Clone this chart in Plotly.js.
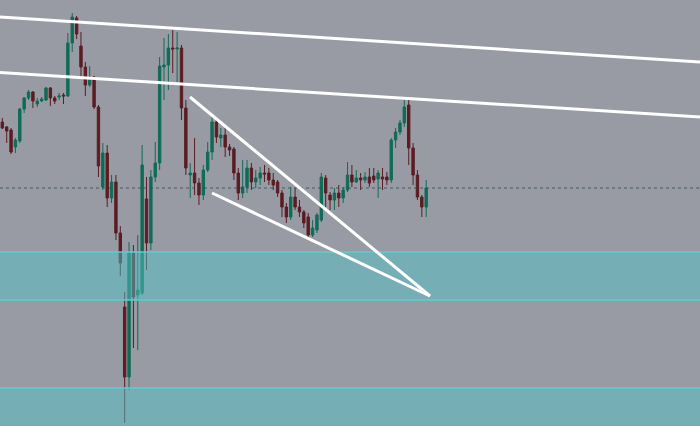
<!DOCTYPE html>
<html>
<head>
<meta charset="utf-8">
<script src="https://cdn.plot.ly/plotly-3.0.1.min.js"></script>
<style>html,body{margin:0;padding:0;background:#989ba3;}#chart{width:700px;height:426px;}</style>
</head>
<body>
<div id="chart"></div>
<script>
// OHLC values (price units), one entry per candle
const openP  = [304,299,296,279,285,317,328,334,322,325,326,338,328,329,331,330,383,408,380,359,341,349,319,239,273,228,244,193,119,49,173,131,133,227,183,249,263,359,361,378,377,378,318,251,253,243,231,256,274,304,288,291,279,277,253,233,239,258,244,248,253,253,246,244,233,219,209,229,219,214,209,191,196,206,248,231,226,233,228,236,251,244,248,246,249,250,247,249,249,246,286,294,303,321,278,251,229,219];
const highP  = [308,300,298,288,318,329,336,335,328,329,339,339,330,333,333,393,413,410,394,364,360,350,321,283,281,251,251,200,134,184,181,191,281,249,256,284,369,388,392,396,394,381,326,263,288,248,261,284,309,307,298,298,282,279,258,266,266,263,256,259,261,258,253,246,236,223,239,238,226,216,213,206,213,253,251,234,238,241,239,264,261,256,253,254,258,258,256,258,254,288,298,306,326,326,283,256,231,246];
const lowP   = [297,283,272,273,283,313,326,318,319,324,325,320,322,326,322,329,374,387,349,330,339,317,249,236,219,223,186,150,3,36,78,76,131,156,176,244,256,326,336,353,344,306,251,228,231,221,226,254,266,283,279,269,270,246,226,228,233,236,238,241,244,241,236,229,209,203,206,216,209,198,188,189,193,204,219,216,216,219,223,234,239,243,236,243,239,243,228,236,241,243,278,291,299,261,241,226,209,209];
const closeP = [298,295,274,286,317,328,334,325,325,327,338,328,325,330,330,383,409,392,359,341,348,319,260,273,228,244,193,163,49,173,129,136,261,183,249,263,360,361,378,377,378,318,258,253,243,231,256,274,304,289,291,279,276,253,233,239,258,244,248,253,252,246,241,233,219,209,229,219,214,203,191,198,211,249,233,226,233,228,236,251,244,248,246,249,243,246,253,247,246,286,294,303,319,278,251,229,219,238];
const candleIndex = openP.map((_, i) => i);

// horizontal zones (price bottom, price top)
const zoneBottoms = [126, -20];
const zoneTops    = [174, 38];
// reference level (dotted)
const refLevel = 238;
// trend lines: [startIndex, startPrice, endIndex, endPrice]
const trendStartX = [-0.53, -0.53, 42.95, 47.99];
const trendStartY = [409, 353.5, 329, 233];
const trendEndX   = [159.66, 159.66, 97.87, 97.87];
const trendEndY   = [364, 309, 130, 130];

const shapes = [];
for (let k = 0; k < zoneBottoms.length; k++) {
  shapes.push({type:'rect', xref:'paper', yref:'y', x0:0, x1:1, y0:zoneBottoms[k], y1:zoneTops[k],
    fillcolor:'rgba(82,193,198,0.5)', line:{width:0}, layer:'above'});
  shapes.push({type:'line', xref:'paper', yref:'y', x0:0, x1:1, y0:zoneBottoms[k], y1:zoneBottoms[k],
    line:{color:'rgba(90,205,210,0.75)', width:2}, layer:'above'});
  shapes.push({type:'line', xref:'paper', yref:'y', x0:0, x1:1, y0:zoneTops[k], y1:zoneTops[k],
    line:{color:'rgba(90,205,210,0.75)', width:2}, layer:'above'});
}
shapes.push({type:'line', xref:'paper', yref:'y', x0:0, x1:1, y0:refLevel, y1:refLevel,
  line:{color:'rgba(40,70,75,0.75)', width:1, dash:'dot'}, layer:'above'});
for (let k = 0; k < trendStartX.length; k++) {
  shapes.push({type:'line', xref:'x', yref:'y', x0:trendStartX[k], y0:trendStartY[k], x1:trendEndX[k], y1:trendEndY[k],
    line:{color:'#ffffff', width:3}, layer:'above'});
}

const trace = {
  type:'candlestick',
  x: candleIndex, open: openP, high: highP, low: lowP, close: closeP,
  increasing:{line:{color:'#106b58', width:1}, fillcolor:'#106b58'},
  decreasing:{line:{color:'#5c1c23', width:1}, fillcolor:'#5c1c23'},
  whiskerwidth:0,
  hoverinfo:'skip'
};

const layout = {
  width:700, height:426,
  margin:{l:0, r:0, t:0, b:0},
  paper_bgcolor:'#989ba3', plot_bgcolor:'#989ba3',
  showlegend:false,
  boxgap:0.22,
  xaxis:{range:[-0.53, 159.66], visible:false, rangeslider:{visible:false}, fixedrange:true},
  yaxis:{range:[0, 426], visible:false, fixedrange:true},
  shapes: shapes,
  hovermode:false
};

Plotly.newPlot('chart', [trace], layout, {displayModeBar:false, staticPlot:true});
</script>
</body>
</html>
